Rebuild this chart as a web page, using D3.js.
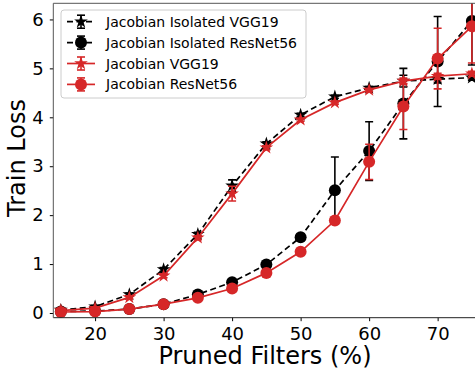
<!DOCTYPE html>
<html>
<head>
<meta charset="utf-8">
<script src="https://cdn.jsdelivr.net/npm/d3@7"></script>
<style>
  html, body { margin: 0; padding: 0; background: #fff; }
  svg { display: block; font-family: "DejaVu Sans", sans-serif; }
</style>
</head>
<body>
<svg id="chart" width="475" height="375"></svg>
<script>
// pruned filter percentages
const pruned = [15, 20, 25, 30, 35, 40, 45, 50, 55, 60, 65, 70, 75];

// train loss per series (means) and error (half-height of bars)
const isoVgg    = [0.06, 0.13, 0.38, 0.89, 1.61, 2.60, 3.46, 4.05, 4.42, 4.60, 4.74, 4.78, 4.81];
const isoVggErr = [0.02, 0.02, 0.03, 0.04, 0.04, 0.12, 0.04, 0.03, 0.03, 0.03, 0.12, 0.08, 0.05];
const isoRes    = [0.03, 0.04, 0.08, 0.18, 0.38, 0.63, 0.99, 1.55, 2.51, 3.31, 4.28, 5.14, 5.97];
const isoResErr = [0.01, 0.01, 0.01, 0.02, 0.03, 0.04, 0.05, 0.06, 0.68, 0.60, 0.72, 0.92, 0.90];
const jacVgg    = [0.05, 0.10, 0.32, 0.76, 1.54, 2.44, 3.38, 3.95, 4.30, 4.56, 4.74, 4.84, 4.89];
const jacVggErr = [0.02, 0.02, 0.03, 0.04, 0.04, 0.15, 0.04, 0.03, 0.03, 0.03, 0.06, 0.06, 0.05];
const jacRes    = [0.02, 0.03, 0.08, 0.18, 0.31, 0.50, 0.82, 1.25, 1.89, 3.09, 4.22, 5.20, 5.86];
const jacResErr = [0.01, 0.01, 0.01, 0.02, 0.02, 0.03, 0.04, 0.05, 0.07, 0.36, 0.47, 0.62, 0.75];

const xTicks = [20, 30, 40, 50, 60, 70];
const yTicks = [0, 1, 2, 3, 4, 5, 6];

const RED = "#d62728";

const series = [
  { name: "Jacobian Isolated VGG19",    y: isoVgg, err: isoVggErr, color: "#000", dash: "6,3.5", marker: "star" },
  { name: "Jacobian Isolated ResNet56", y: isoRes, err: isoResErr, color: "#000", dash: "6,3.5", marker: "circle" },
  { name: "Jacobian VGG19",             y: jacVgg, err: jacVggErr, color: RED,   dash: null,    marker: "star" },
  { name: "Jacobian ResNet56",          y: jacRes, err: jacResErr, color: RED,   dash: null,    marker: "circle" }
];

const m = { left: 53.3, top: 3.3, bottom: 317.7 };
const svg = d3.select("#chart");

const x = d3.scaleLinear().domain([13.9, 75.6]).range([m.left, 476]);
const y = d3.scaleLinear().domain([-0.096, 6.33]).range([m.bottom, m.top]);

svg.append("defs").append("clipPath").attr("id", "plot")
  .append("rect").attr("x", m.left).attr("y", m.top)
  .attr("width", 480 - m.left).attr("height", m.bottom - m.top);

const plot = svg.append("g").attr("clip-path", "url(#plot)");

const star = d3.symbol().type(d3.symbolStar).size(58);
const line = d3.line().x((d, i) => x(pruned[i])).y(d => y(d));

series.forEach(s => {
  const g = plot.append("g");
  // error bars
  s.y.forEach((v, i) => {
    const cx = x(pruned[i]), lo = y(v - s.err[i]), hi = y(v + s.err[i]);
    g.append("line").attr("x1", cx).attr("x2", cx).attr("y1", lo).attr("y2", hi)
      .attr("stroke", s.color).attr("stroke-width", 1.6);
    [lo, hi].forEach(yy => g.append("line")
      .attr("x1", cx - 4).attr("x2", cx + 4).attr("y1", yy).attr("y2", yy)
      .attr("stroke", s.color).attr("stroke-width", 1.6));
  });
  // line
  g.append("path").datum(s.y).attr("d", line)
    .attr("fill", "none").attr("stroke", s.color).attr("stroke-width", 1.7)
    .attr("stroke-dasharray", s.dash);
  // markers
  s.y.forEach((v, i) => {
    if (s.marker === "circle") {
      g.append("circle").attr("cx", x(pruned[i])).attr("cy", y(v)).attr("r", 6)
        .attr("fill", s.color);
    } else {
      g.append("path").attr("d", star)
        .attr("transform", `translate(${x(pruned[i])},${y(v)})`)
        .attr("fill", s.color);
    }
  });
});

// axes
const xAxis = svg.append("g").attr("transform", `translate(0,${m.bottom})`)
  .call(d3.axisBottom(x).tickValues(xTicks).tickFormat(d3.format("d")).tickSize(3.5).tickPadding(6));
const yAxis = svg.append("g").attr("transform", `translate(${m.left},0)`)
  .call(d3.axisLeft(y).tickValues(yTicks).tickFormat(d3.format("d")).tickSize(3.5).tickPadding(6));
[xAxis, yAxis].forEach(a => {
  a.selectAll("text").attr("font-size", 18).attr("font-family", "DejaVu Sans").attr("fill", "#000");
  a.selectAll("line").attr("stroke", "#000").attr("stroke-width", 1);
  a.select(".domain").remove();
});
// spines
svg.append("line").attr("x1", m.left).attr("x2", 476).attr("y1", m.bottom).attr("y2", m.bottom)
  .attr("stroke", "#222").attr("stroke-width", 1);
svg.append("line").attr("x1", m.left).attr("x2", 476).attr("y1", m.top).attr("y2", m.top)
  .attr("stroke", "#555").attr("stroke-width", 1);
svg.append("line").attr("x1", m.left).attr("x2", m.left).attr("y1", m.top).attr("y2", m.bottom)
  .attr("stroke", "#555").attr("stroke-width", 1);

// axis labels
svg.append("text").attr("x", 265).attr("y", 364)
  .attr("text-anchor", "middle").attr("font-size", 24).text("Pruned Filters (%)");
svg.append("text").attr("transform", `translate(25,158) rotate(-90)`)
  .attr("text-anchor", "middle").attr("font-size", 24).text("Train Loss");

// legend
const lg = svg.append("g");
lg.append("rect").attr("x", 61).attr("y", 10).attr("width", 245).attr("height", 88)
  .attr("rx", 3).attr("fill", "#fff").attr("fill-opacity", 0.8)
  .attr("stroke", "#ccc").attr("stroke-width", 1);
series.forEach((s, i) => {
  const ry = 21.7 + i * 20.9;
  lg.append("line").attr("x1", 67).attr("x2", 95).attr("y1", ry).attr("y2", ry)
    .attr("stroke", s.color).attr("stroke-width", 1.7).attr("stroke-dasharray", s.dash);
  lg.append("line").attr("x1", 81).attr("x2", 81).attr("y1", ry - 6.5).attr("y2", ry + 6.5)
    .attr("stroke", s.color).attr("stroke-width", 1.6);
  [ry - 6.5, ry + 6.5].forEach(yy => lg.append("line")
    .attr("x1", 77).attr("x2", 85).attr("y1", yy).attr("y2", yy)
    .attr("stroke", s.color).attr("stroke-width", 1.6));
  if (s.marker === "circle") {
    lg.append("circle").attr("cx", 81).attr("cy", ry).attr("r", 6).attr("fill", s.color);
  } else {
    lg.append("path").attr("d", star).attr("transform", `translate(81,${ry})`).attr("fill", s.color);
  }
  lg.append("text").attr("x", 106).attr("y", ry + 5).attr("font-size", 14)
    .attr("fill", "#000").text(s.name);
});
</script>
</body>
</html>
